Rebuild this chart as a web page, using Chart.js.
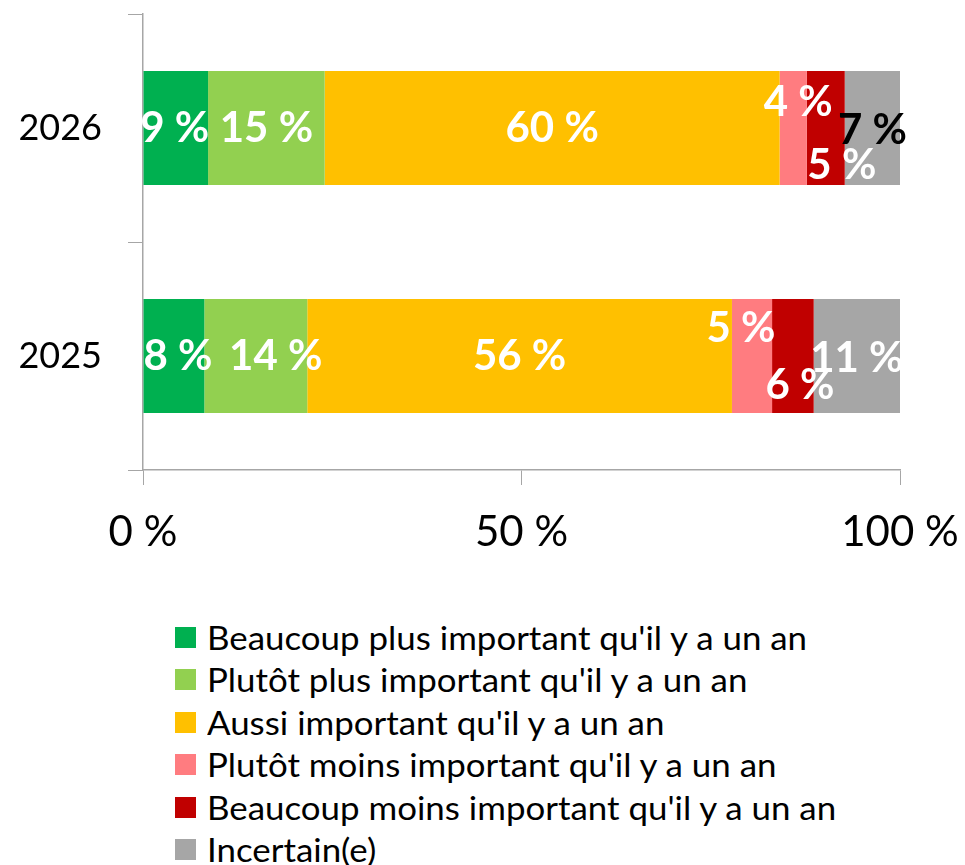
<!DOCTYPE html>
<html>
<head>
<meta charset="utf-8">
<script src="https://cdn.jsdelivr.net/npm/chart.js@4"></script>
<style>
  body { margin: 0; background: #fff; font-family: Lato, sans-serif; }
  #wrap { position: relative; width: 965px; height: 865px; }
  #chart { position: absolute; left: 0; top: 0; }
  #legend { position: absolute; left: 175px; top: 616px; }
  .item { display: flex; align-items: center; height: 42.5px; font-size: 32px; color: #000; white-space: nowrap; }
  .box { width: 21px; height: 21px; margin-right: 11px; flex: none; }
  .txt { display: inline-block; transform: scaleX(1.09); transform-origin: left center; }
</style>
</head>
<body>
<div id="wrap">
  <canvas id="chart" width="965" height="580"></canvas>
  <div id="legend"></div>
</div>
<script>
const years = ['2026', '2025'];
const seriesNames = [
    'Beaucoup plus important qu\'il y a un an',
    'Plutôt plus important qu\'il y a un an',
    'Aussi important qu\'il y a un an',
    'Plutôt moins important qu\'il y a un an',
    'Beaucoup moins important qu\'il y a un an',
    'Incertain(e)'
];
const beaucoupPlus = [8.6, 8.1];
const plutotPlus = [15.4, 13.6];
const aussi = [60.1, 56.1];
const plutotMoins = [3.6, 5.3];
const beaucoupMoins = [5.0, 5.5];
const incertain = [7.3, 11.4];
const xTicks = [0, 50, 100];

const colors = ['#00B050', '#92D050', '#FFC000', '#FF7C80', '#C00000', '#A6A6A6'];
const values = [beaucoupPlus, plutotPlus, aussi, plutotMoins, beaucoupMoins, incertain];

// label nudges [dataset][year] = [dx, dy], and label colour
const labelShift = [
    [[-1, 0], [4, 0]],
    [[0, 0], [20, 0]],
    [[0, 0], [0, 0]],
    [[5, -26], [-11, -28]],
    [[16, 37], [7, 29]],
    [[0, 2], [0, 2]]
];
const labelColor = [
    ['#fff', '#fff'], ['#fff', '#fff'], ['#fff', '#fff'],
    ['#fff', '#fff'], ['#fff', '#fff'], ['#000', '#fff']
];

const barLabels = {
    id: 'barLabels',
    afterDatasetsDraw(chart) {
        const c = chart.ctx;
        c.save();
        c.font = 'bold 42px Lato';
        c.textAlign = 'center';
        c.textBaseline = 'middle';
        chart.data.datasets.forEach((ds, i) => {
            chart.getDatasetMeta(i).data.forEach((bar, j) => {
                const cx = (bar.x + bar.base) / 2 + labelShift[i][j][0];
                const cy = bar.y + labelShift[i][j][1];
                c.fillStyle = labelColor[i][j];
                c.fillText(Math.round(ds.data[j]) + ' %', cx, cy);
            });
        });
        c.restore();
    }
};

function noPad(scale) {
    scale.paddingTop = 0;
    scale.paddingBottom = 0;
    scale.paddingLeft = 0;
    scale.paddingRight = 0;
}

new Chart(document.getElementById('chart'), {
    type: 'bar',
    data: {
        labels: years,
        datasets: seriesNames.map((name, i) => ({
            label: name,
            data: values[i],
            backgroundColor: colors[i],
            barPercentage: 0.5,
            categoryPercentage: 1
        }))
    },
    options: {
        indexAxis: 'y',
        responsive: false,
        animation: false,
        layout: { autoPadding: false, padding: { top: 14, right: 65, left: 0, bottom: 0 } },
        plugins: {
            legend: { display: false },
            tooltip: { enabled: false }
        },
        scales: {
            x: {
                stacked: true,
                min: 0,
                max: 100,
                afterFit(scale) { scale.height = 110; noPad(scale); },
                afterBuildTicks(scale) { scale.ticks = xTicks.map(v => ({ value: v })); },
                grid: { drawOnChartArea: false, drawTicks: true, tickLength: 15, color: '#A6A6A6' },
                border: { display: true, color: '#A6A6A6', width: 1.5 },
                ticks: {
                    padding: 22,
                    color: '#000',
                    font: { family: 'Lato', size: 42 },
                    callback: v => v + ' %'
                }
            },
            y: {
                stacked: true,
                afterFit(scale) { scale.width = 143; noPad(scale); },
                grid: { drawOnChartArea: false, drawTicks: true, tickLength: 15, color: '#A6A6A6', offset: true },
                border: { display: true, color: '#A6A6A6', width: 1.5 },
                ticks: {
                    padding: 26,
                    color: '#000',
                    font: { family: 'Lato', size: 36 }
                }
            }
        }
    },
    plugins: [barLabels]
});

const legend = document.getElementById('legend');
seriesNames.forEach((name, i) => {
    const row = document.createElement('div');
    row.className = 'item';
    const box = document.createElement('span');
    box.className = 'box';
    box.style.background = colors[i];
    const txt = document.createElement('span');
    txt.className = 'txt';
    txt.textContent = name;
    row.appendChild(box);
    row.appendChild(txt);
    legend.appendChild(row);
});
</script>
</body>
</html>
